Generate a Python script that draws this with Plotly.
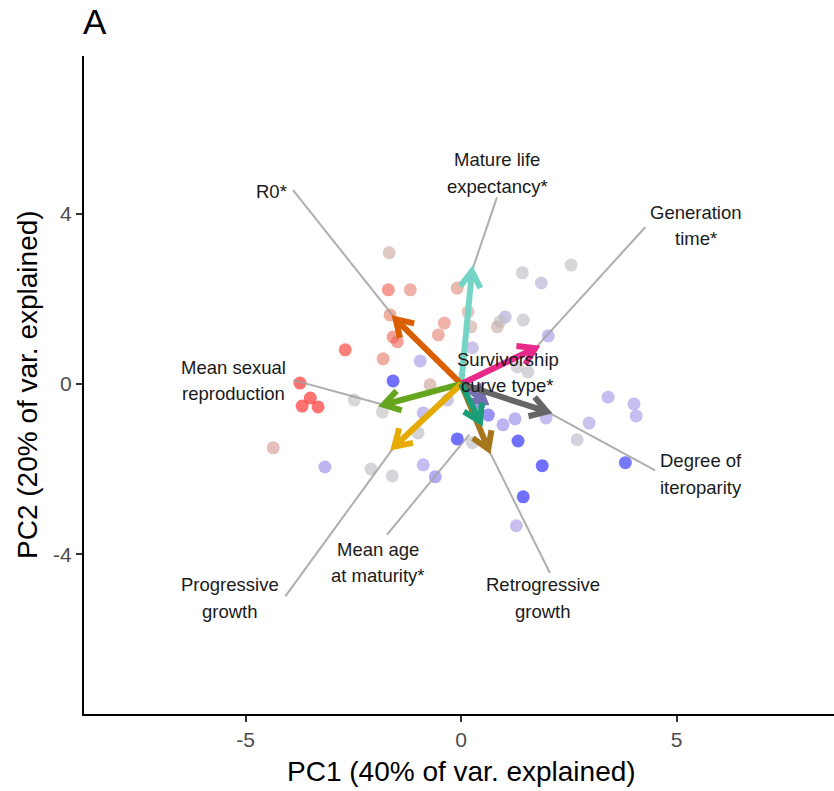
import math
import plotly.graph_objects as go

# ---- species scores on the first two principal components ----
pc1 = [-1.67, -1.69, -1.18, -0.09, -1.65, -1.58, -1.48, -2.69, -1.81, -0.39,
       -0.53, 0.16, 0.23, -0.95, -1.58, -0.72, -3.74, -3.50, -3.69, -3.32,
       -2.48, -1.83, -4.36, -3.16, -2.09, -1.60, -0.88, -1.00, -0.09, -0.88,
       -0.60, 0.26, 1.42, 2.55, 1.86, 1.02, 0.90, 0.84, 1.44, 2.02,
       0.26, 1.30, 1.55, 3.41, 4.01, 4.06, 2.97, 2.69, 1.97, 1.25,
       0.97, 0.63, 1.32, 1.88, 3.81, 1.44, 1.28, -0.32, 0.44]
pc2 = [3.08, 2.21, 2.21, 2.25, 1.62, 1.10, 0.99, 0.80, 0.59, 1.43,
       1.15, 1.69, 1.34, 0.54, 0.07, -0.02, 0.02, -0.33, -0.52, -0.54,
       -0.38, -0.66, -1.50, -1.95, -2.00, -2.16, -0.68, -1.15, -1.29, -1.90,
       -2.18, -1.38, 2.61, 2.79, 2.37, 1.57, 1.46, 1.34, 1.50, 1.13,
       0.85, 0.40, 0.28, -0.31, -0.47, -0.75, -0.92, -1.31, -0.80, -0.82,
       -0.96, -0.73, -1.34, -1.92, -1.85, -2.65, -3.33, -0.38, -0.45]
# colour variable of each species (negative = red end, positive = blue end)
score_colour = [-0.15, -0.6, -0.4, -0.35, -0.45, -0.55, -0.55, -0.8, -0.45, -0.4,
                -0.4, -0.2, -0.15, 0.5, 0.95, -0.2, -0.9, -0.9, -0.9, -0.9,
                0.0, 0.0, -0.25, 0.55, 0.05, 0.05, 0.5, 0.05, 0.95, 0.5,
                0.6, 0.05, 0.05, 0.0, 0.2, 0.3, 0.0, -0.1, 0.05, 0.5,
                0.35, 0.05, 0.05, 0.5, 0.5, 0.5, 0.4, 0.1, 0.5, 0.55,
                0.55, 0.75, 0.95, 0.95, 0.9, 0.95, 0.45, 0.3, 0.7]

# ---- trait loadings (arrows) ----
traits = ["R0*", "Mature life\nexpectancy*", "Generation\ntime*",
          "Mean sexual\nreproduction", "Survivorship\ncurve type*",
          "Degree of\niteroparity", "Mean age\nat maturity*",
          "Progressive\ngrowth", "Retrogressive\ngrowth"]
load_pc1 = [-1.52, 0.25, 1.72, -1.80, 0.55, 1.99, 0.44, -1.55, 0.63]
load_pc2 = [1.52, 2.65, 0.84, -0.49, -0.42, -0.65, -0.88, -1.47, -1.53]
arrow_colours = ["#D95F02", "#76D4C6", "#E7298A", "#66A61E", "#7570B3",
                 "#666666", "#1B9E77", "#E6AB02", "#A6761D"]

# ---- label placement (label centre, segment start, segment trim in px) ----
label_layout = {
    "R0*":                        dict(lx=-4.39, ly=4.51, sx=-3.90, sy=4.55, trim=0),
    "Mature life\nexpectancy*":   dict(lx=0.84, ly=4.95, sx=0.83, sy=4.38, trim=0),
    "Generation\ntime*":          dict(lx=5.44, ly=3.72, sx=4.27, sy=3.68, trim=0),
    "Mean sexual\nreproduction":  dict(lx=-5.28, ly=0.08, sx=-3.89, sy=0.09, trim=0),
    "Survivorship\ncurve type*":  dict(lx=1.08, ly=0.27, sx=None, sy=None, trim=0),
    "Degree of\niteroparity":     dict(lx=5.56, ly=-2.12, sx=4.50, sy=-2.03, trim=0),
    "Mean age\nat maturity*":     dict(lx=-1.93, ly=-4.19, sx=-1.72, sy=-3.54, trim=17),
    "Progressive\ngrowth":        dict(lx=-5.36, ly=-5.02, sx=-4.08, sy=-4.99, trim=0),
    "Retrogressive\ngrowth":      dict(lx=1.91, ly=-5.02, sx=2.06, sy=-4.44, trim=0),
}

W, H = 834, 791
M = dict(l=84, r=0, t=56, b=77)
XR = [-8.75, 8.65]
YR = [-7.75, 7.70]
px_x = (W - M["l"] - M["r"]) / (XR[1] - XR[0])
px_y = (H - M["t"] - M["b"]) / (YR[1] - YR[0])

fig = go.Figure()

# species points
fig.add_trace(go.Scatter(
    x=pc1, y=pc2, mode="markers", hoverinfo="skip",
    marker=dict(size=13, color=score_colour, cmin=-1, cmax=1, opacity=0.6,
                colorscale=[[0.0, "rgb(255,0,0)"], [0.25, "rgb(235,110,90)"],
                            [0.5, "rgb(188,188,188)"], [0.75, "rgb(160,145,232)"],
                            [1.0, "rgb(0,0,255)"]],
                line=dict(width=0)),
    showlegend=False))

# repel segments from labels to arrow tips
for name, tx, ty in zip(traits, load_pc1, load_pc2):
    lay = label_layout[name]
    if lay["sx"] is None:
        continue
    dxp = (tx - lay["sx"]) * px_x
    dyp = (ty - lay["sy"]) * px_y
    dist = math.hypot(dxp, dyp)
    f = (dist - lay["trim"]) / dist
    ex = lay["sx"] + (tx - lay["sx"]) * f
    ey = lay["sy"] + (ty - lay["sy"]) * f
    fig.add_trace(go.Scatter(x=[lay["sx"], ex], y=[lay["sy"], ey], mode="lines",
                             line=dict(color="rgba(160,160,160,0.85)", width=2),
                             hoverinfo="skip", showlegend=False))

# loading arrows with open heads
HEAD = 19.0
ANG = math.radians(32)
draw_order = [4, 1, 0, 2, 5, 3, 7, 8, 6]
for i in draw_order:
    tx, ty = load_pc1[i], load_pc2[i]
    # direction from tip back to origin, in pixel space
    bx, by = -tx * px_x, -ty * px_y
    n = math.hypot(bx, by)
    ux, uy = bx / n, by / n
    barbs = []
    for s in (1, -1):
        ca, sa = math.cos(s * ANG), math.sin(s * ANG)
        rx = ux * ca - uy * sa
        ry = ux * sa + uy * ca
        barbs.append((tx + rx * HEAD / px_x, ty + ry * HEAD / px_y))
    back_x = tx + ux * 3 / px_x
    back_y = ty + uy * 3 / px_y
    fig.add_trace(go.Scatter(
        x=[0, back_x, None, barbs[0][0], tx, barbs[1][0]],
        y=[0, back_y, None, barbs[0][1], ty, barbs[1][1]],
        mode="lines", line=dict(color=arrow_colours[i], width=6),
        hoverinfo="skip", showlegend=False))

# trait labels, one annotation per text line
LINE_GAP = 26.7
for name in traits:
    lay = label_layout[name]
    lines = name.split("\n")
    k = len(lines)
    for j, txt in enumerate(lines):
        shift = ((k - 1) / 2 - j) * LINE_GAP
        fig.add_annotation(x=lay["lx"], y=lay["ly"], text=txt, showarrow=False,
                           xanchor="center", yanchor="middle", yshift=shift,
                           font=dict(family="Liberation Sans", size=18.5, color="#1a1a1a"))

# axis titles and panel tag
fig.add_annotation(xref="paper", yref="paper", x=(461 - M["l"]) / (W - M["l"] - M["r"]),
                   y=-0.087, text="PC1 (40% of var. explained)", showarrow=False,
                   xanchor="center", yanchor="middle",
                   font=dict(family="Liberation Sans", size=28, color="black"))
fig.add_annotation(xref="paper", yref="paper", x=-0.076, y=0.5,
                   text="PC2 (20% of var. explained)", showarrow=False, textangle=-90,
                   xanchor="center", yanchor="middle",
                   font=dict(family="Liberation Sans", size=28, color="black"))
fig.add_annotation(xref="paper", yref="paper", x=(95 - M["l"]) / (W - M["l"] - M["r"]),
                   y=(H - M["b"] - 21) / (H - M["t"] - M["b"]), text="A", showarrow=False,
                   xanchor="center", yanchor="middle",
                   font=dict(family="Liberation Sans", size=35, color="black"))

axis_common = dict(showgrid=False, zeroline=False, showline=True, linecolor="black",
                   linewidth=2, ticks="outside", ticklen=6, tickwidth=1.5,
                   tickcolor="#333333",
                   tickfont=dict(family="Liberation Sans", size=21, color="#4D4D4D"))
fig.update_xaxes(range=XR, tickvals=[-5, 0, 5], ticktext=["-5", "0", "5"], **axis_common)
fig.update_yaxes(range=YR, tickvals=[-4, 0, 4], ticktext=["-4", "0", "4"], **axis_common)

fig.update_layout(width=W, height=H, margin=M, plot_bgcolor="white",
                  paper_bgcolor="white", showlegend=False)

fig.write_html("out.html")
